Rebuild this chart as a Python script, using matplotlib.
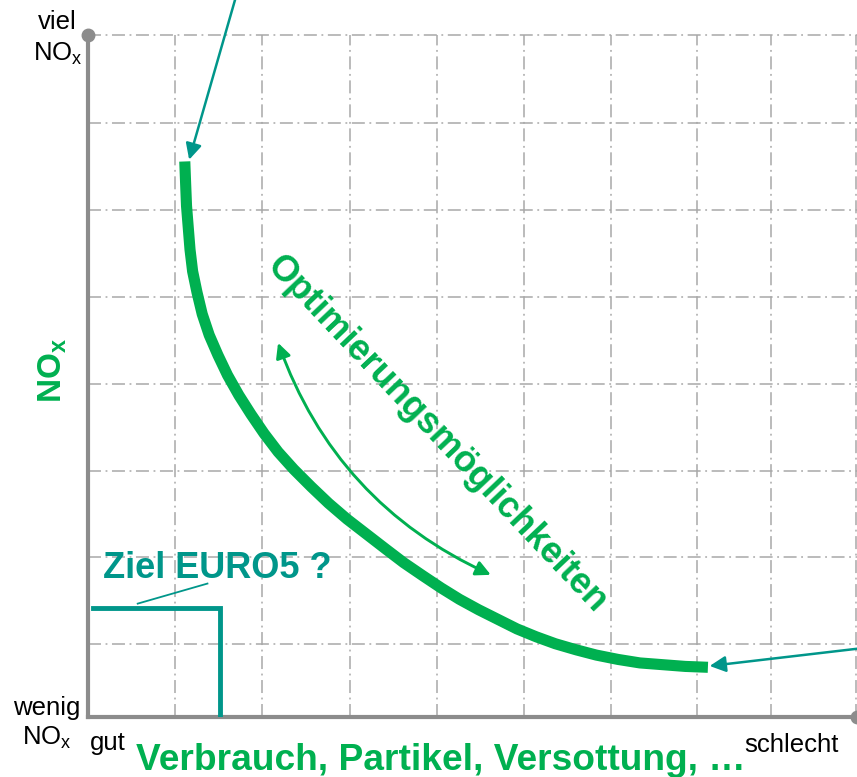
import numpy as np
import matplotlib
matplotlib.use("Agg")
import matplotlib.pyplot as plt
from matplotlib.patches import FancyArrowPatch

plt.rcParams['font.family'] = ['Liberation Sans', 'DejaVu Sans']
plt.rcParams['mathtext.fontset'] = 'custom'
plt.rcParams['mathtext.rm'] = 'Liberation Sans'
plt.rcParams['mathtext.bf'] = 'Liberation Sans:bold'

GREEN = "#00b050"
TEAL = "#00968a"
GRID = "#a8a8a8"
AXIS = "#8c8c8c"

# chart units: one grid cell = 1
x_max = 8.82
y_max = 7.82
grid_x = [1.0, 2.0, 3.0, 4.0, 5.0, 6.0, 6.98, 7.83, 8.81]
grid_y = [0.84, 1.83, 2.82, 3.82, 4.82, 5.81, 6.81, 7.82]

# trade-off curve NOx vs. consumption
curve_x = [1.11, 1.12, 1.13, 1.15, 1.17, 1.20, 1.25, 1.31, 1.39, 1.49, 1.60, 1.73,
           1.87, 2.02, 2.18, 2.36, 2.56, 2.76, 2.97, 3.19, 3.41, 3.62, 3.84, 4.05,
           4.26, 4.48, 4.70, 4.92, 5.14, 5.36, 5.60, 5.83, 6.08, 6.33, 6.59, 6.85, 7.11]
curve_y = [6.37, 6.11, 5.86, 5.61, 5.36, 5.11, 4.87, 4.62, 4.38, 4.15, 3.92, 3.69,
           3.47, 3.25, 3.04, 2.84, 2.64, 2.45, 2.27, 2.10, 1.93, 1.77, 1.62, 1.48,
           1.35, 1.23, 1.12, 1.01, 0.92, 0.84, 0.77, 0.71, 0.66, 0.62, 0.60, 0.58, 0.57]

# EURO5 target box
target_x = [0.06, 1.51, 1.51]
target_y = [1.25, 1.25, 0.0]
leader_x = [0.57, 1.37]
leader_y = [1.30, 1.53]

# pointer arrows (tail, tip)
arrow_top = [(1.72, 8.34), (1.16, 6.39)]
arrow_right = [(8.97, 0.80), (7.13, 0.585)]
# double arrow along the curve
opt_arrow = [(2.18, 4.29), (4.62, 1.63)]

fig = plt.figure(figsize=(8.57, 7.77), dpi=100)
ax = fig.add_axes([88 / 857, 60 / 777, 769 / 857, 682 / 777])
ax.set_xlim(0, x_max)
ax.set_ylim(0, y_max)
ax.axis('off')

grid_style = dict(color=GRID, lw=1.1, ls=(0, (8.5, 3, 1.2, 3)), zorder=1, clip_on=False)
for gx in grid_x:
    ax.plot([gx, gx], [0, y_max], **grid_style)
for gy in grid_y:
    ax.plot([0, x_max + 0.2], [gy, gy], **grid_style)

# axes with end dots
ax.plot([0, 0], [0, y_max], color=AXIS, lw=3, zorder=3, clip_on=False)
ax.plot([0, x_max], [0, 0], color=AXIS, lw=3, zorder=3, clip_on=False)
ax.plot([0], [y_max], 'o', color=AXIS, ms=9, zorder=3, clip_on=False)
ax.plot([x_max], [0], 'o', color=AXIS, ms=9, zorder=3, clip_on=False)

ax.plot(curve_x, curve_y, color=GREEN, lw=8, solid_capstyle='butt',
        solid_joinstyle='round', zorder=4)

ax.plot(target_x, target_y, color=TEAL, lw=3.5, solid_joinstyle='miter', zorder=4)
ax.plot(leader_x, leader_y, color=TEAL, lw=1.3, zorder=4)

for tail, tip in (arrow_top, arrow_right):
    ax.add_patch(FancyArrowPatch(tail, tip, arrowstyle='-|>', mutation_scale=24,
                                 color=TEAL, lw=1.8, shrinkA=0, shrinkB=0,
                                 clip_on=False, zorder=5))

ax.add_patch(FancyArrowPatch(opt_arrow[0], opt_arrow[1], arrowstyle='<|-|>',
                             connectionstyle='arc3,rad=0.21', mutation_scale=22,
                             color=GREEN, lw=2.1, shrinkA=0, shrinkB=0, zorder=5))

# labels
ax.text(4.00, 3.24, 'Optimierungsmöglichkeiten', color=GREEN, fontsize=26,
        fontweight='bold', rotation=-46.5, ha='center', va='center',
        rotation_mode='anchor', zorder=6)
ax.text(0.17, 1.59, 'Ziel EURO5 ?', color=TEAL, fontsize=26, fontweight='bold',
        ha='left', va='baseline', zorder=6)

ax.text(-0.41, 3.98, r'NO$_\mathbf{x}$', color=GREEN, fontsize=24, fontweight='bold',
        rotation=90, ha='center', va='center', clip_on=False)
ax.text(0.55, -0.61, 'Verbrauch, Partikel, Versottung, …', color=GREEN, fontsize=26.7,
        fontweight='bold', ha='left', va='baseline', clip_on=False)

ax.text(-0.35, 7.89, 'viel', fontsize=18.5, ha='center', va='baseline', clip_on=False)
ax.text(-0.35, 7.53, r'NO$_\mathregular{x}$', fontsize=18.5, ha='center',
        va='baseline', clip_on=False)
ax.text(-0.47, 0.02, 'wenig', fontsize=18.5, ha='center', va='baseline', clip_on=False)
ax.text(-0.47, -0.32, r'NO$_\mathregular{x}$', fontsize=18.5, ha='center',
        va='baseline', clip_on=False)
ax.text(0.02, -0.38, 'gut', fontsize=18.5, ha='left', va='baseline', clip_on=False)
ax.text(7.53, -0.40, 'schlecht', fontsize=18.5, ha='left', va='baseline', clip_on=False)

fig.savefig('out.png', dpi=100)
